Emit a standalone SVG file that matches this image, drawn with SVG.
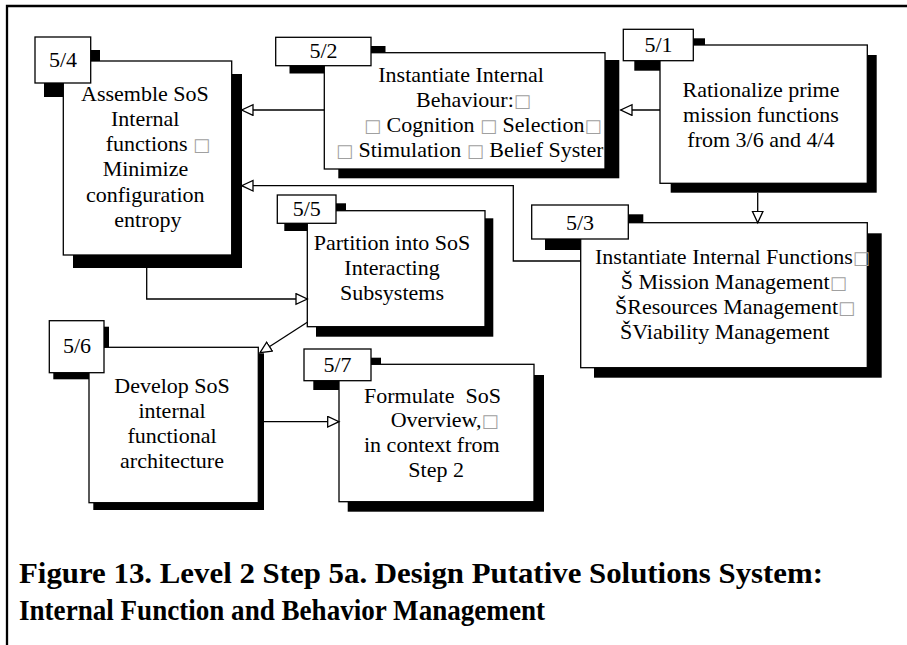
<svg xmlns="http://www.w3.org/2000/svg" width="907" height="645" viewBox="0 0 907 645">
  <style>
    .box { fill: #fff; stroke: #000; stroke-width: 1.3; }
    .shadow { fill: #000; }
    .txt { font-family: "Liberation Serif", "Times New Roman", serif; font-size: 22px; fill: #000; }
    .mid { text-anchor: middle; }
    .miss { font-family: "DejaVu Sans", sans-serif; font-size: 18px; fill: #a0a0a0; }
    .cap { font-family: "Liberation Serif", "Times New Roman", serif; font-size: 29px; font-weight: bold; fill: #000; }
    .conn { fill: none; stroke: #000; stroke-width: 1.3; marker-end: url(#head); }
  </style>
  <defs>
    <marker id="head" markerUnits="userSpaceOnUse" markerWidth="14" markerHeight="14" refX="12" refY="6" orient="auto">
      <path d="M0.7,0.7 L12,6 L0.7,11.3 Z" fill="#fff" stroke="#000" stroke-width="1.3"/>
    </marker>
    <!-- text area of box 5/2: long lines are cut at its right edge -->
    <clipPath id="clip52">
      <rect x="325" y="53" width="278.5" height="115.5"/>
    </clipPath>
  </defs>

  <rect width="907" height="645" fill="#fff"/>
  <!-- page frame -->
  <path d="M7,645 V6 H907" fill="none" stroke="#000" stroke-width="2.3"/>

  <!-- 5/4 -->
  <g id="n54">
    <rect class="shadow" x="44" y="50" width="56" height="47"/>
    <rect class="shadow" x="73" y="74" width="169" height="194"/>
    <rect class="box" x="63.3" y="61" width="168.4" height="194"/>
    <rect class="box" x="35" y="37" width="55.7" height="46"/>
    <text class="txt mid" x="63" y="66.7">5/4</text>
    <text class="txt" x="81" y="100.7">Assemble SoS</text>
    <text class="txt" x="111" y="125.9">Internal</text>
    <text class="txt" x="105.7" y="151.1">functions <tspan class="miss">□</tspan></text>
    <text class="txt" x="102.7" y="176.3">Minimize</text>
    <text class="txt" x="86" y="201.5">configuration</text>
    <text class="txt" x="114.3" y="226.7">entropy</text>
  </g>

  <!-- 5/2 -->
  <g id="n52">
    <rect class="shadow" x="289.5" y="46" width="96" height="27.5"/>
    <rect class="shadow" x="338.3" y="60" width="281" height="118.3"/>
    <rect class="box" x="324.3" y="52.7" width="280.7" height="116.3"/>
    <rect class="box" x="275.7" y="37.3" width="95.3" height="28.4"/>
    <text class="txt mid" x="323.5" y="58.3">5/2</text>
    <g clip-path="url(#clip52)">
      <text class="txt" x="378.3" y="82">Instantiate Internal</text>
      <text class="txt" x="416" y="107">Behaviour:<tspan class="miss">□</tspan></text>
      <text class="txt" x="364" y="132"><tspan class="miss">□</tspan> Cognition <tspan class="miss">□</tspan> Selection<tspan class="miss">□</tspan></text>
      <text class="txt" x="336" y="157"><tspan class="miss">□</tspan> Stimulation <tspan class="miss">□</tspan> Belief Syster</text>
    </g>
  </g>

  <!-- 5/1 -->
  <g id="n51">
    <rect class="shadow" x="634.3" y="38.3" width="70.7" height="32.4"/>
    <rect class="shadow" x="670.7" y="55" width="206" height="137.7"/>
    <rect class="box" x="660" y="45" width="207.3" height="138.3"/>
    <rect class="box" x="623.3" y="29.3" width="70" height="31.4"/>
    <text class="txt mid" x="658.5" y="52.3">5/1</text>
    <text class="txt mid" x="761" y="97.3">Rationalize prime</text>
    <text class="txt mid" x="761" y="122">mission functions</text>
    <text class="txt mid" x="761" y="147">from 3/6 and 4/4</text>
  </g>

  <!-- 5/3 -->
  <g id="n53">
    <rect class="shadow" x="545" y="214.3" width="98.3" height="35.7"/>
    <rect class="shadow" x="594" y="233.3" width="287.7" height="144.4"/>
    <rect class="box" x="580.7" y="222.7" width="286.6" height="145"/>
    <rect class="box" x="531.7" y="205" width="96.6" height="34"/>
    <text class="txt mid" x="580" y="230">5/3</text>
    <text class="txt" x="595" y="264">Instantiate Internal Functions<tspan class="miss">□</tspan></text>
    <text class="txt" x="620.7" y="289">Š Mission Management<tspan class="miss">□</tspan></text>
    <text class="txt" x="615" y="314">ŠResources Management<tspan class="miss">□</tspan></text>
    <text class="txt" x="620" y="339">ŠViability Management</text>
  </g>

  <!-- 5/5 -->
  <g id="n55">
    <rect class="shadow" x="284.3" y="203.3" width="61.7" height="27.7"/>
    <rect class="shadow" x="316" y="218.3" width="177.3" height="118.4"/>
    <rect class="box" x="307.3" y="210.7" width="177.7" height="116"/>
    <rect class="box" x="277.3" y="195" width="58.7" height="28.3"/>
    <text class="txt mid" x="306.7" y="215.7">5/5</text>
    <text class="txt mid" x="392" y="250">Partition into SoS</text>
    <text class="txt mid" x="392" y="275">Interacting</text>
    <text class="txt mid" x="392" y="300">Subsystems</text>
  </g>

  <!-- 5/6 -->
  <g id="n56">
    <rect class="shadow" x="53.3" y="326.7" width="55.7" height="52.6"/>
    <rect class="shadow" x="93.3" y="353.3" width="170.7" height="156.7"/>
    <rect class="box" x="89" y="347.3" width="169.3" height="155.4"/>
    <rect class="box" x="49.3" y="320.7" width="54.7" height="52"/>
    <text class="txt mid" x="77" y="353.3">5/6</text>
    <text class="txt mid" x="172" y="393.3">Develop SoS</text>
    <text class="txt mid" x="172" y="418.3">internal</text>
    <text class="txt mid" x="172" y="443.3">functional</text>
    <text class="txt mid" x="172" y="468.3">architecture</text>
  </g>

  <!-- 5/7 -->
  <g id="n57">
    <rect class="shadow" x="313.3" y="357.7" width="67.7" height="32.3"/>
    <rect class="shadow" x="347.7" y="375" width="196.3" height="136.7"/>
    <rect class="box" x="339" y="364.3" width="195" height="137.4"/>
    <rect class="box" x="304" y="349" width="67" height="31.7"/>
    <text class="txt mid" x="337.5" y="371.7">5/7</text>
    <text class="txt" x="364" y="402.7" xml:space="preserve">Formulate  SoS</text>
    <text class="txt" x="390.7" y="427.3">Overview,<tspan class="miss">□</tspan></text>
    <text class="txt" x="364" y="451.7">in context from</text>
    <text class="txt" x="408.3" y="476.7">Step 2</text>
  </g>

  <!-- connectors -->
  <g id="connectors">
    <path class="conn" d="M660,110 H620.7"/>
    <path class="conn" d="M324.3,110 H241.7"/>
    <path class="conn" d="M757.7,192.7 V222.7"/>
    <path class="conn" d="M580.7,261 H513.3 V185.7 H241.7"/>
    <path class="conn" d="M146.7,267.7 V299 H307.3"/>
    <path class="conn" d="M307.3,322.3 L260,352.7"/>
    <path class="conn" d="M264,421.7 H339"/>
  </g>

  <!-- caption -->
  <text class="cap" x="19" y="583" textLength="804" lengthAdjust="spacingAndGlyphs">Figure 13. Level 2 Step 5a. Design Putative Solutions System:</text>
  <text class="cap" x="19" y="620" textLength="526" lengthAdjust="spacingAndGlyphs">Internal Function and Behavior Management</text>
</svg>
